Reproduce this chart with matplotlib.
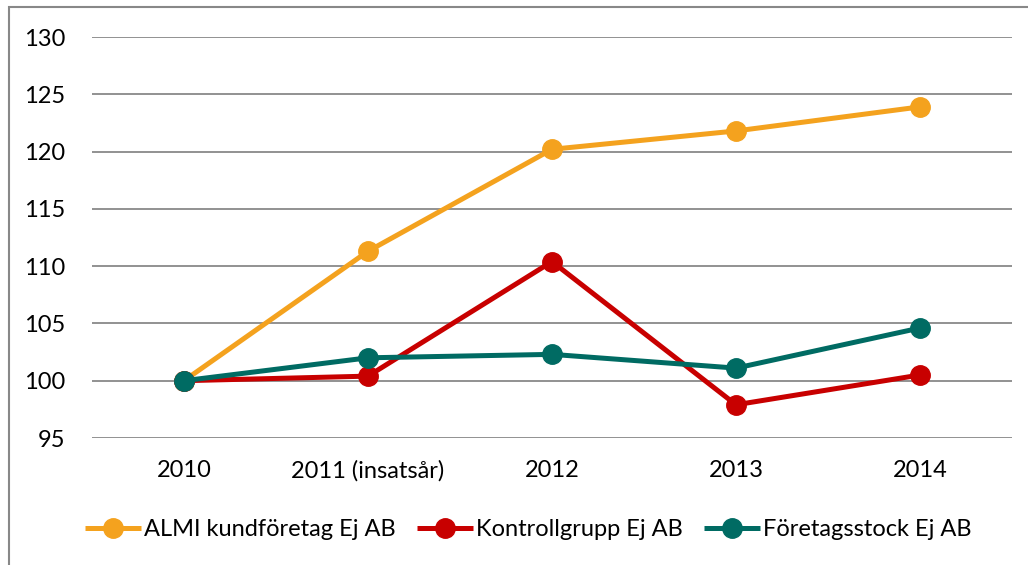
import matplotlib
matplotlib.use("Agg")
import matplotlib.pyplot as plt
from matplotlib.patches import Rectangle

years = ["2010", "2011 (insatsår)", "2012", "2013", "2014"]
almi = [100.0, 111.3, 120.2, 121.8, 123.9]
kontroll = [100.0, 100.4, 110.4, 97.9, 100.5]
stock = [100.0, 102.0, 102.3, 101.1, 104.6]
names = ["ALMI kundföretag Ej AB", "Kontrollgrupp Ej AB", "Företagsstock Ej AB"]
colors = ["#F4A21E", "#C80000", "#006B63"]

plt.rcParams["font.family"] = ["Lato", "DejaVu Sans"]

fig = plt.figure(figsize=(10.28, 5.65), dpi=100)
ax = fig.add_axes([92/1028, 1 - 438/565, (1012-92)/1028, (438-37)/565])

x = range(len(years))
for vals, name, c in zip([almi, kontroll, stock], names, colors):
    ax.plot(x, vals, color=c, lw=3.6, marker="o", markersize=14, label=name,
            solid_capstyle="butt")

ax.set_xlim(-0.5, 4.5)
ax.set_ylim(95, 130)
ax.set_yticks(range(95, 131, 5))
ax.set_xticks(list(x))
ax.set_xticklabels(years)
ax.grid(axis="y", color="#898989", lw=1.3)
ax.set_axisbelow(True)
for s in ax.spines.values():
    s.set_visible(False)
ax.tick_params(length=0, labelsize=17, colors="black")
ax.tick_params(axis="y", pad=19)
ax.tick_params(axis="x", pad=16)

fig.legend(loc="center", bbox_to_anchor=(528/1028, 1 - 530/565), ncol=3,
           frameon=False, fontsize=17, handlelength=2.4, handletextpad=0.1,
           columnspacing=0.9)

fig.patches.append(Rectangle((9/1028, -0.1), 1.2, 1 - 7/565 + 0.1,
                             transform=fig.transFigure, fill=False,
                             edgecolor="#888888", lw=1.5))

fig.savefig("out.png", dpi=100)
